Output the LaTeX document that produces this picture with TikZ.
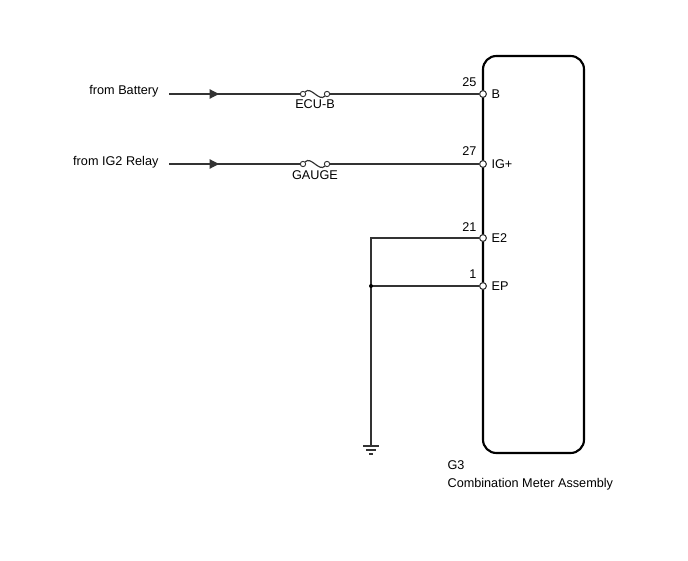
\documentclass[tikz,border=0pt]{standalone}
\usepackage{fontspec}
\setmainfont{Liberation Sans}
\usetikzlibrary{positioning,calc,arrows.meta}

\tikzset{
  wire/.style={draw=black!80, line width=0.9pt},
  pinc/.style={circle, draw=black!80, fill=white, line width=0.7pt, inner sep=0pt, minimum size=5pt},
  fusec/.style={circle, draw=black!80, fill=white, line width=0.7pt, inner sep=0pt, minimum size=4pt},
  lbl/.style={font=\fontsize{9.5}{11}\selectfont, inner sep=1pt},
  feed/.style={-{Triangle[length=7pt,width=7pt]}}
}

\begin{document}
\begin{tikzpicture}[x=0.75pt, y=-0.75pt]
        \useasboundingbox (0,0) rectangle (688,560);
        % sources
        \node[lbl, anchor=east] (batt) at (160,91) {from Battery};
        \node[lbl, anchor=east] (ig) at (160,162) {from IG2 Relay};
        \coordinate (sB) at (169,94);
        \coordinate (sIG) at (169,164);
        % pins on the meter
        \node[pinc] (pB) at (483,94) {};
        \node[pinc] (pIG) at (483,164) {};
        \node[pinc] (pE2) at (483,238) {};
        \node[pinc] (pEP) at (483,286) {};
        % fuses
        \node[fusec] (fB1) at (303,94) {};
        \node[fusec] (fB2) at (327,94) {};
        \node[fusec] (fG1) at (303,164) {};
        \node[fusec] (fG2) at (327,164) {};
        \node[lbl] (ecub) at (315,104) {ECU-B};
        \node[lbl] (gauge) at (315,175) {GAUGE};
        % wires
        \draw[wire] (sB) -- (fB1);
        \draw[wire, feed] (sB) -- (219,94);
        \draw[wire] (fB1) .. controls (311,86) and (319,102) .. (fB2);
        \draw[wire] (fB2) -- (pB);
        \draw[wire] (sIG) -- (fG1);
        \draw[wire, feed] (sIG) -- (219,164);
        \draw[wire] (fG1) .. controls (311,156) and (319,172) .. (fG2);
        \draw[wire] (fG2) -- (pIG);
        % ground
        \coordinate (j) at (371,286);
        \coordinate (g) at (371,446);
        \draw[wire] (pE2) -| (g);
        \draw[wire] (pEP) -- (j);
        \fill[black] (j) circle (2);
        \draw[wire] ($(g)+(-8,0)$) -- ($(g)+(8,0)$);
        \draw[wire] ($(g)+(-5,4)$) -- ($(g)+(5,4)$);
        \draw[wire] ($(g)+(-2,8)$) -- ($(g)+(2,8)$);
        % meter assembly
        \draw[line width=1.6pt, rounded corners=10pt] (483,56) rectangle (584,453);
        \foreach \p in {pB,pIG,pE2,pEP} \node[pinc] at (\p) {};
        \node[lbl, anchor=east] (n25) at (478,82) {25};
        \node[lbl, anchor=east] (n27) at (478,151) {27};
        \node[lbl, anchor=east] (n21) at (478,227) {21};
        \node[lbl, anchor=east] (n1) at (478,274) {1};
        \node[lbl, anchor=west] (tB) at (490,94) {B};
        \node[lbl, anchor=west] (tIG) at (490,164) {IG+};
        \node[lbl, anchor=west] (tE2) at (490,238) {E2};
        \node[lbl, anchor=west] (tEP) at (490,286) {EP};
        \node[lbl, anchor=west] (g3) at (446,465) {G3};
        \node[lbl, anchor=west] (cma) at (446,484) {Combination Meter Assembly};
    \end{tikzpicture}
\end{document}
